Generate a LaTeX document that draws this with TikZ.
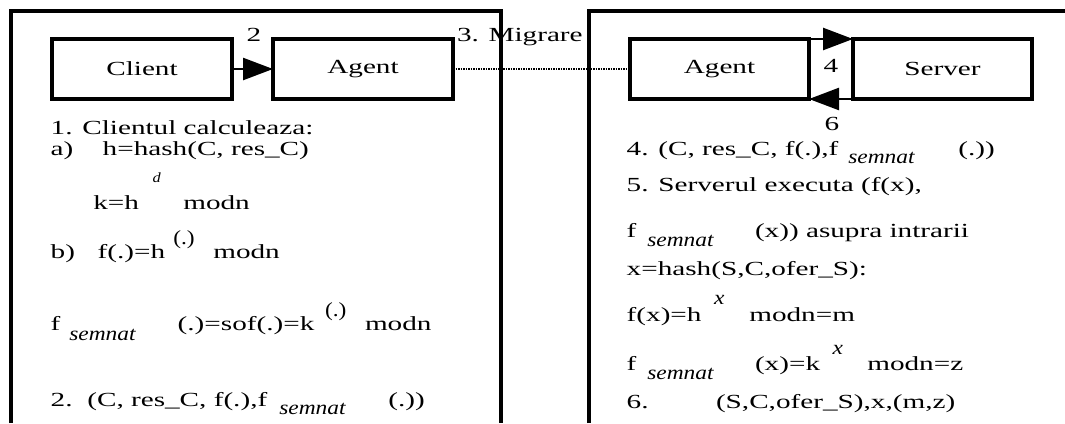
\documentclass[tikz,border=0pt]{standalone}
\usepackage{fontspec}
\setmainfont{Liberation Serif}[FakeStretch=1.46]
\newfontfamily\slimserif{Liberation Serif}[FakeStretch=1.17]
\usetikzlibrary{arrows.meta}
\tikzset{
  frame/.style={line width=4pt},
  box/.style={draw, line width=3.5pt, minimum height=60pt, inner sep=0pt, outer sep=0pt,
    font=\fontsize{20}{24}\selectfont},
  txt/.style={anchor=base west, inner sep=0pt, outer sep=0pt, font=\fontsize{20}{24}\selectfont},
  lbl/.style={txt, anchor=base},
  idx/.style={txt, font=\slimserif\itshape\fontsize{20}{24}\selectfont},
  pw/.style={txt, font=\slimserif\fontsize{20}{24}\selectfont},
  smallidx/.style={txt, font=\slimserif\itshape\fontsize{14}{16}\selectfont},
  flow/.style={line width=2.5pt, -{Triangle[length=30pt,width=22pt]}},
  migr/.style={line width=1.6pt, dash pattern=on 1.6pt off 0.9pt},
}
\begin{document}
\begin{tikzpicture}[x=1pt, y=-1pt]
\useasboundingbox (0,0) rectangle (1065,423);

% the two hosts
\draw[frame] (11,423) -- (11,11) -- (501,11) -- (501,423);
\draw[frame] (589,423) -- (589,11) -- (1065,11);

% components
\node[box, minimum width=180pt] (client) at (142,69) {Client};
\node[box, minimum width=180pt] (agentA) at (363,69) {Agent};
\node[box, minimum width=179pt] (agentB) at (719.5,69) {Agent};
\node[box, minimum width=179pt] (server) at (942.5,69) {Server};

% interactions
\draw[flow] (client.east) -- (agentA.west);
\draw[migr] (agentA.east) -- (agentB.west);
\draw[flow] (agentB.north east) -- (server.north west);
\draw[flow] (server.south west) -- (agentB.south east);

\node[lbl] (s2) at (254,41) {2};
\node[txt] (s3) at (457,41) {3. Migrare};
\node[lbl] (s4) at (831,72) {4};
\node[lbl] (s6) at (832,130) {6};

% client side computations
\node[txt] (c1) at (50.7,134) {1. Clientul calculeaza:};
\node[txt] (ca) at (50.7,155.7) {a)};
\node[txt] (ca2) at (102.7,155.7) {h=hash(C, res\_C)};
\node[smallidx] (cd) at (152.7,182.7) {d};
\node[txt] (ck) at (93.3,209.3) {k=h};
\node[txt] (ck2) at (183.3,209.3) {modn};
\node[pw] (cbp) at (173.3,244) {(.)};
\node[txt] (cb) at (50.7,258.3) {b)};
\node[txt] (cb2) at (97.7,258.3) {f(.)=h};
\node[txt] (cb3) at (213.3,258.3) {modn};
\node[txt] (cf) at (50.7,330.7) {f};
\node[idx] (cfs) at (69.3,340) {semnat};
\node[txt] (cf2) at (177.7,330.7) {(.)=sof(.)=k};
\node[pw] (cfp) at (325,316) {(.)};
\node[txt] (cf3) at (365,330.7) {modn};
\node[txt] (c2) at (50.7,406) {2.};
\node[txt] (c22) at (87.3,406) {(C, res\_C, f(.),f};
\node[idx] (c2s) at (279.3,414.3) {semnat};
\node[txt] (c23) at (388.3,406) {(.))};

% server side computations
\node[txt] (s41) at (626.7,155.7) {4. (C, res\_C, f(.),f};
\node[idx] (s4s) at (848.3,163.3) {semnat};
\node[txt] (s42) at (958.3,155.7) {(.))};
\node[txt] (s5) at (626.7,191.7) {5. Serverul executa (f(x),};
\node[txt] (s5f) at (626.7,237.3) {f};
\node[idx] (s5s) at (647.3,246.7) {semnat};
\node[txt] (s52) at (755,237.3) {(x)) asupra intrarii};
\node[txt] (sx) at (626.7,275.7) {x=hash(S,C,ofer\_S):};
\node[idx] (sm1) at (714,304) {x};
\node[txt] (sm) at (626.7,321) {f(x)=h};
\node[txt] (sm2) at (749.3,321) {modn=m};
\node[idx] (sz1) at (832.7,354) {x};
\node[txt] (sz) at (626.7,370.7) {f};
\node[idx] (szs) at (647.3,379.3) {semnat};
\node[txt] (sz2) at (755,370.7) {(x)=k};
\node[txt] (sz3) at (867.3,370.7) {modn=z};
\node[txt] (s6a) at (626.7,408.3) {6.};
\node[txt] (s6b) at (716,408.3) {(S,C,ofer\_S),x,(m,z)};
\end{tikzpicture}
\end{document}
